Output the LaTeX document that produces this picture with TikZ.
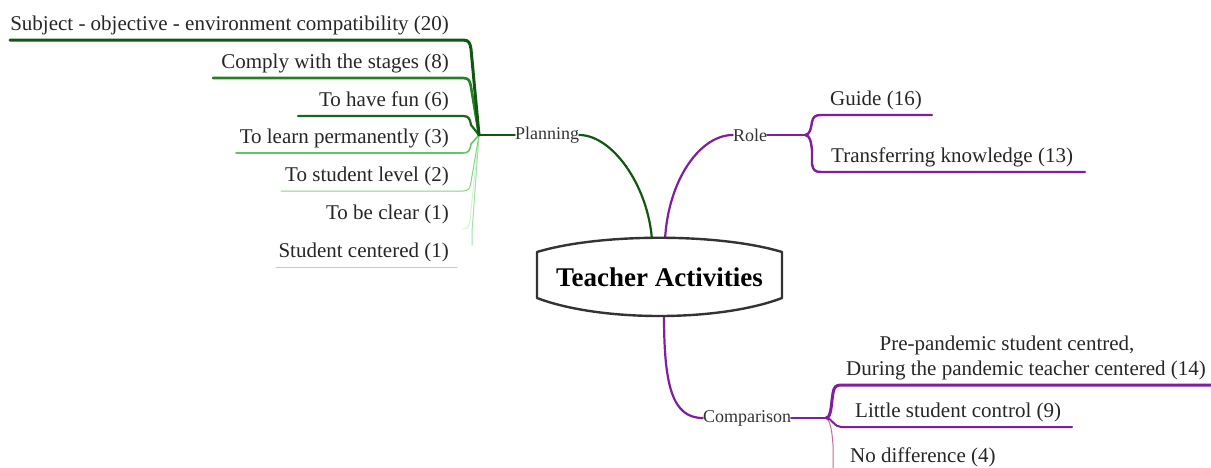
\documentclass[tikz,border=0pt]{standalone}
\usepackage{fontspec}
\setmainfont{Liberation Serif}
\definecolor{gA}{RGB}{16,88,16}
\definecolor{gB}{RGB}{34,130,34}
\definecolor{gC}{RGB}{24,104,24}
\definecolor{gD}{RGB}{96,200,96}
\definecolor{gE}{RGB}{130,215,130}
\definecolor{gF}{RGB}{215,242,215}
\definecolor{gG}{RGB}{165,225,165}
\definecolor{pu}{RGB}{128,30,160}
\definecolor{pk}{RGB}{200,104,150}
\tikzset{
  leaf/.style={font=\fontsize{21}{25}\selectfont, inner sep=0pt, text=black!85},
  mid/.style={font=\fontsize{18}{21}\selectfont, inner sep=0pt, text=black!80},
  conn/.style={line cap=round, line join=round}
}
\begin{document}
\begin{tikzpicture}[x=1pt,y=-1pt]
\useasboundingbox (0,0) rectangle (1211,467);

% ---------- hubs ----------
\coordinate (ph) at (479,135);
\coordinate (rh) at (805,135);
\coordinate (ch) at (826,418);

% ---------- mid labels ----------
\node[mid] (plan) at (547,135) {Planning};
\node[mid] (role) at (750,135) {Role};
\node[mid] (comp) at (747,418) {Comparison};

% ---------- planning leaves ----------
\node[leaf, anchor=base east] (l1) at (449,30) {Subject - objective - environment compatibility (20)};
\node[leaf, anchor=base east] (l2) at (449,68) {Comply with the stages (8)};
\node[leaf, anchor=base east] (l3) at (449,106) {To have fun (6)};
\node[leaf, anchor=base east] (l4) at (449,143) {To learn permanently (3)};
\node[leaf, anchor=base east] (l5) at (449,181) {To student level (2)};
\node[leaf, anchor=base east] (l6) at (449,219) {To be clear (1)};
\node[leaf, anchor=base east] (l7) at (449,257) {Student centered (1)};

% ---------- role leaves ----------
\node[leaf, anchor=base west] (r1) at (830,105) {Guide (16)};
\node[leaf, anchor=base west] (r2) at (831,162) {Transferring knowledge (13)};

% ---------- comparison leaves ----------
\node[leaf, anchor=base, align=center] (c1) at (1026,375) {Pre-pandemic student centred,\hspace*{38pt}\\During the pandemic teacher centered (14)};
\node[leaf, anchor=base west] (c2) at (855,417) {Little student control (9)};
\node[leaf, anchor=base west] (c3) at (850,462) {No difference (4)};

% ---------- planning branch ----------
\draw[conn, gA, line width=2.2pt] (plan.east) .. controls (612,135) and (648,185) .. (652,240);
\draw[conn, gA, line width=2.2pt] (ph) -- (plan.west);
\draw[conn, gF, line width=1pt] (ph) -- (471,210) .. controls (470,225) and (469,229) .. (463,229);
\draw[conn, gG, line width=1pt] (ph) -- (472,232) -- (472,245);
\draw[conn, gG, line width=1pt] (276,267) -- (457,267);
\draw[conn, gE, line width=1pt] (ph) -- (471,182) .. controls (470,188) and (469,191) .. (463,191) -- (281,191);
\draw[conn, gD, line width=1.6pt] (ph) -- (471,144) .. controls (470,150) and (469,153) .. (463,153) -- (236,153);
\draw[conn, gC, line width=2.2pt] (298,116) -- (463,116) .. controls (469,116) and (470,119) .. (471,125) -- (ph);
\draw[conn, gB, line width=2.6pt] (213,78) -- (463,78) .. controls (469,78) and (470,81) .. (471,87) -- (ph);
\draw[conn, gA, line width=3pt] (10,40) -- (463,40) .. controls (469,40) and (470,43) .. (471,49) -- (ph);

% ---------- role branch ----------
\draw[conn, pu, line width=2.2pt] (665,240) .. controls (668,180) and (700,135) .. (role.west);
\draw[conn, pu, line width=2.4pt] (role.east) -- (rh);
\draw[conn, pu, line width=2.4pt] (rh) .. controls (810,135) and (811,128) .. (812,122) .. controls (813,117) and (815,115) .. (821,115) -- (932,115);
\draw[conn, pu, line width=2.4pt] (rh) .. controls (810,135) and (811,142) .. (812,150) -- (812,164) .. controls (813,170) and (815,172) .. (821,172) -- (1085,172);

% ---------- comparison branch ----------
\draw[conn, pu, line width=2.2pt] (664,315) .. controls (664,385) and (672,418) .. (comp.west);
\draw[conn, pu, line width=2.2pt] (comp.east) -- (ch);
\draw[pk, line width=1pt] (ch) .. controls (830,420) and (832,430) .. (833,445) -- (833,472);
\draw[conn, pu, line width=2pt] (ch) .. controls (832,418) and (834,427) .. (841,427) -- (1072,427);
\draw[conn, pu, line width=3pt] (ch) .. controls (830,418) and (831,410) .. (832,400) -- (833,393) .. controls (834,387) and (836,385) .. (841,385) -- (1215,385);

% ---------- central topic ----------
\draw[line width=2.4pt, draw=black!80, fill=white, line join=round]
  (537,252) .. controls (600,233) and (719,233) .. (782,252) -- (782,298)
  .. controls (719,322) and (600,322) .. (537,298) -- cycle;
\node[font=\bfseries\fontsize{27}{30}\selectfont, text=black, inner sep=0pt] (ta) at (659.5,277) {Teacher Activities};
\end{tikzpicture}
\end{document}
